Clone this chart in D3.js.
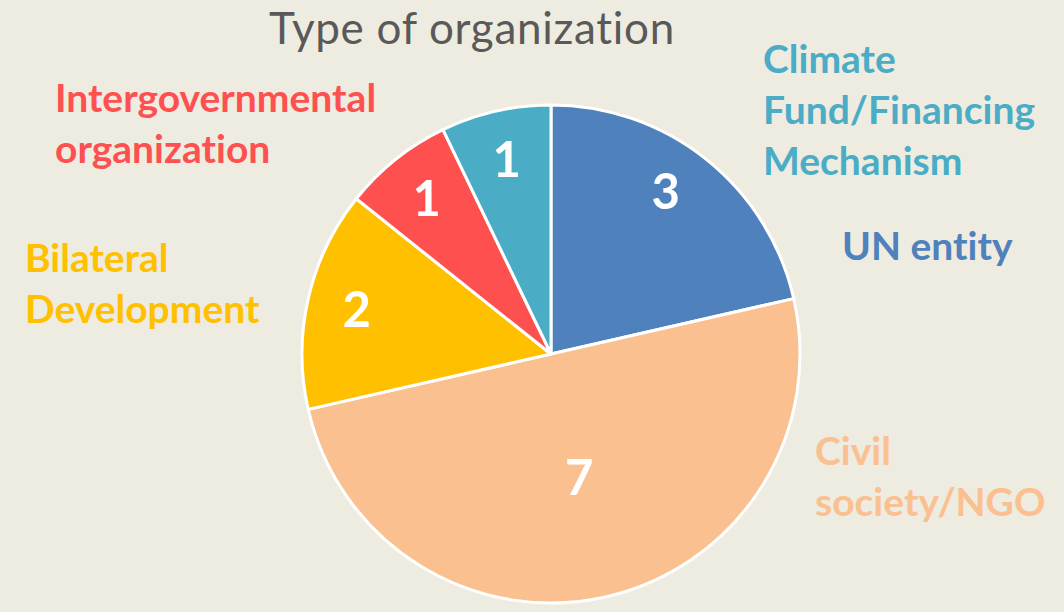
<!DOCTYPE html>
<html>
<head>
<meta charset="utf-8">
<script src="https://cdn.jsdelivr.net/npm/d3@7"></script>
<style>
  html, body { margin: 0; padding: 0; background: #eeebe0; }
  svg { display: block; }
  text { font-variant-ligatures: none; font-feature-settings: "liga" 0; }
</style>
</head>
<body>
<div id="chart"></div>
<script>
// data ///////////////////////////////////////////////////////////////
const categories = ['UN entity', 'Civil society/NGO', 'Bilateral Development', 'Intergovernmental organization', 'Climate Fund/Financing Mechanism'];
const counts     = [3, 7, 2, 1, 1];
const colors     = ['#4f81bd', '#fac090', '#ffc000', '#ff5050', '#4bacc6'];
// category names as they break over lines on the slide
const labelLines = [
  ['UN entity'],
  ['Civil', 'society/NGO'],
  ['Bilateral', 'Development'],
  ['Intergovernmental', 'organization'],
  ['Climate', 'Fund/Financing', 'Mechanism']
];
const title = 'Type of organization';

// layout /////////////////////////////////////////////////////////////
const width = 1064, height = 612;
const cx = 551, cy = 354, radius = 249;
const labelPos = [ [842, 260], [815, 465], [25, 272], [55, 112], [763, 73] ];
const lineHeight = 51;

const svg = d3.select('#chart').append('svg')
  .attr('width', width)
  .attr('height', height)
  .attr('viewBox', [0, 0, width, height]);

svg.append('rect').attr('width', width).attr('height', height).attr('fill', '#eeebe0');

svg.append('text')
  .attr('x', 472).attr('y', 44)
  .attr('text-anchor', 'middle')
  .attr('font-family', 'Lato, sans-serif')
  .attr('font-size', 44)
  .attr('letter-spacing', 0.7)
  .attr('fill', '#595959')
  .text(title);

const rows = categories.map((c, i) => ({ category: c, value: counts[i], color: colors[i], lines: labelLines[i] }));

const pie = d3.pie().sort(null).value(d => d.value);
const arc = d3.arc().innerRadius(0).outerRadius(radius);
const arcs = pie(rows);

const g = svg.append('g').attr('transform', `translate(${cx},${cy})`);

g.selectAll('path')
  .data(arcs)
  .join('path')
  .attr('d', arc)
  .attr('fill', d => d.data.color)
  .attr('stroke', '#fff')
  .attr('stroke-width', 3)
  .attr('stroke-linejoin', 'round');

// value labels - the big slice keeps its number nearer the middle
g.selectAll('text.value')
  .data(arcs)
  .join('text')
  .attr('class', 'value')
  .attr('transform', d => {
    const r = radius * (d.data.value > 5 ? 0.51 : 0.8);
    const a = (d.startAngle + d.endAngle) / 2 - (d.data.value === 3 ? 0.06 : 0);
    return `translate(${r * Math.sin(a)},${-r * Math.cos(a)})`;
  })
  .attr('dy', '0.36em')
  .attr('text-anchor', 'middle')
  .attr('font-family', 'Lato, sans-serif')
  .attr('font-weight', 'bold')
  .attr('font-size', 49)
  .attr('fill', '#fff')
  .text(d => d.data.value);

// category labels //////////////////////////////////////////////////////
const labels = svg.append('g')
  .selectAll('text')
  .data(rows)
  .join('text')
  .attr('x', (d, i) => labelPos[i][0])
  .attr('y', (d, i) => labelPos[i][1])
  .attr('font-family', 'Lato, sans-serif')
  .attr('font-weight', 'bold')
  .attr('font-size', 39)
  .attr('fill', d => d.color);

labels.selectAll('tspan')
  .data((d, i) => d.lines.map(l => ({ l, x: labelPos[i][0] })))
  .join('tspan')
  .attr('x', d => d.x)
  .attr('dy', (d, j) => j === 0 ? 0 : lineHeight)
  .text(d => d.l);
</script>
</body>
</html>
